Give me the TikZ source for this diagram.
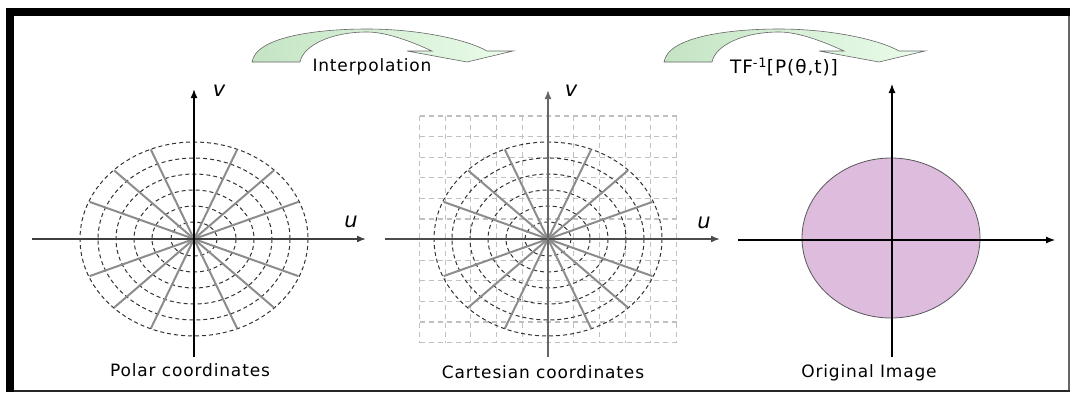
\documentclass[tikz,border=0pt]{standalone}
\usepackage{fontspec}
\setmainfont{DejaVu Sans}[LetterSpace=5]
\usetikzlibrary{arrows.meta}

\definecolor{flechaosc}{RGB}{196,228,196}
\definecolor{flechacla}{RGB}{234,252,234}
\definecolor{malva}{RGB}{221,188,221}
\definecolor{rejilla}{RGB}{192,192,192}

\begin{document}
\begin{tikzpicture}[x={(1pt,0pt)},y={(0pt,-1pt)},>={Latex[length=9pt,width=7pt]},
  eje/.style={->,line width=1.6pt},
  anillo/.style={dash pattern=on 4pt off 3pt,line width=1pt,black!80},
  radio/.style={line width=2pt,black!45},
  malla/.style={dash pattern=on 5pt off 4pt,line width=1.1pt,rejilla},
  rotulo/.style={font=\fontsize{17}{19}\selectfont},
  letra/.style={font=\fontsize{21}{21}\selectfont\itshape}]
  \useasboundingbox (0,0) rectangle (1070,394);
  % marco
  \fill[black] (6,8) rectangle (1070,16);
  \fill[black] (6,8) rectangle (14,392);
  \draw[black!60,line width=1.5pt] (1069,16) -- (1069,392);
  \draw[black!85,line width=2pt] (14,391) -- (1070,391);
  % flechas curvas
  \foreach \dx in {0,412}{
    \begin{scope}[shift={(\dx,0)}]
      \shadedraw[left color=flechaosc,right color=flechacla,draw=black!60,line width=0.6pt]
        (252,62) .. controls (256,36) and (320,29) .. (367,29)
        .. controls (420,29) and (468,40) .. (487,51)
        -- (513,51) -- (467,62) -- (407,51) -- (432,51)
        .. controls (408,40) and (385,32) .. (367,32)
        .. controls (330,32) and (303,46) .. (300,62) -- cycle;
    \end{scope}
  }
  \node[rotulo] (interp) at (372,67) {Interpolation};
  \node[rotulo,font=\fontsize{18.5}{20}\selectfont] (tfinv) at (784,67) {TF\textsuperscript{-1}[P(θ,t)]};

  % coordenadas polares
  \coordinate (polO) at (194,239);
  \coordinate (polL) at (32,239);  \coordinate (polR) at (366,239);
  \coordinate (polB) at (194,357); \coordinate (polT) at (194,89);
  \foreach \rx/\ry in {23/17,42/33,60/49,78/65,96/81,114/97}
    \draw[anillo] (polO) ellipse [x radius=\rx,y radius=\ry];
  \foreach \a in {22.5,45,67.5,112.5,135,157.5,202.5,225,247.5,292.5,315,337.5}
    \draw[radio] (polO) -- ++({113*cos(\a)},{-97*sin(\a)});
  \draw[eje,black!75] (polL) -- (polR);
  \draw[eje,black] (polB) -- (polT);
  \node[letra] (polu) at (351,222) {u};
  \node[letra] (polv) at (219,91) {v};
  \node[rotulo] (poltxt) at (190,370) {Polar coordinates};

  % coordenadas cartesianas
  \coordinate (carO) at (548,239);
  \coordinate (carL) at (385,239); \coordinate (carR) at (720,239);
  \coordinate (carB) at (548,357); \coordinate (carT) at (548,90);
  \foreach \i in {0,...,10}
    \draw[malla] ({419.5+25.7*\i},116) -- ({419.5+25.7*\i},342.6);
  \foreach \j in {0,...,11}
    \draw[malla] (419.5,{116+20.6*\j}) -- (676.5,{116+20.6*\j});
  \foreach \rx/\ry in {23/17,42/33,60/49,78/65,96/81,114/97}
    \draw[anillo] (carO) ellipse [x radius=\rx,y radius=\ry];
  \foreach \a in {22.5,45,67.5,112.5,135,157.5,202.5,225,247.5,292.5,315,337.5}
    \draw[radio] (carO) -- ++({113*cos(\a)},{-97*sin(\a)});
  \draw[eje,black!70] (carL) -- (carR);
  \draw[eje,black!60] (carB) -- (carT);
  \node[letra] (caru) at (704,223) {u};
  \node[letra] (carv) at (571,91) {v};
  \node[rotulo] (cartxt) at (543,372) {Cartesian coordinates};

  % imagen original
  \coordinate (oriO) at (891,238);
  \coordinate (oriL) at (738,240); \coordinate (oriR) at (1055,240);
  \coordinate (oriB) at (892,357); \coordinate (oriT) at (892,84);
  \filldraw[fill=malva,draw=black!65,line width=0.8pt] (oriO) ellipse [x radius=89,y radius=80];
  \draw[->,line width=1.1pt] (oriL) -- (oriR);
  \draw[->,line width=1.1pt] (oriB) -- (oriT);
  \node[rotulo] (oritxt) at (869,373) {Original Image};
\end{tikzpicture}
\end{document}
